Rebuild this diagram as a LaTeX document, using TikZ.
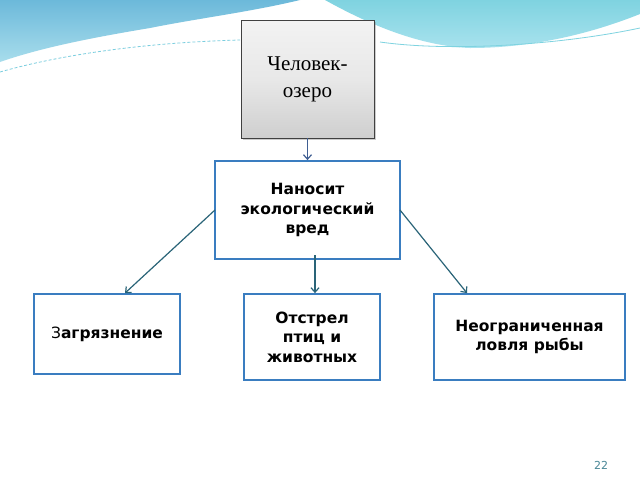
\documentclass[tikz,border=0pt]{standalone}
\usepackage{fontspec}
\setmainfont{Liberation Serif}
\newfontfamily\boxfont{DejaVu Sans}
\usetikzlibrary{arrows.meta,shadows}
\definecolor{boxblue}{HTML}{3A7DC0}
\definecolor{linkteal}{HTML}{2A6478}
\definecolor{topblue}{HTML}{3F5E92}
\definecolor{skyA}{HTML}{6CB9DA}
\definecolor{skyB}{HTML}{A8DDEC}
\definecolor{tealA}{HTML}{7FD3E0}
\definecolor{tealB}{HTML}{A8E2EE}
\definecolor{pagenum}{HTML}{4A8797}
\tikzset{
  bluebox/.style={draw=boxblue, line width=1.8pt, fill=white, inner sep=0pt,
    font=\boxfont\bfseries\fontsize{15.5}{19.5}\selectfont, align=center},
  greybox/.style={draw=black!75, line width=0.8pt, top color=gray!10, bottom color=gray!38,
    middle color=gray!18, inner sep=0pt, drop shadow={shadow xshift=1.5pt, shadow yshift=-1.5pt, opacity=0.4},
    font=\fontsize{21}{27}\selectfont, align=center},
  link/.style={draw=linkteal, line width=1.2pt, -{Straight Barb[length=4.5pt,width=8pt]}},
}
\begin{document}
\begin{tikzpicture}[x=1pt,y=-1pt]
\useasboundingbox (0,0) rectangle (640,480);
\fill[white] (0,0) rectangle (640,480);
% background swooshes
\shade[top color=skyA, bottom color=skyB] (0,0) -- (300,0) .. controls (250,12) and (200,18) .. (150,28)
  .. controls (90,38) and (40,48) .. (0,62) -- cycle;
\shade[top color=tealA, bottom color=tealB] (325,0) -- (640,0) -- (640,14)
  .. controls (600,30) and (540,48) .. (470,48) .. controls (420,46) and (370,25) .. (325,0) -- cycle;
\draw[tealA!80!skyA, line width=0.8pt, dash pattern=on 3pt off 2pt] (0,72) .. controls (70,52) and (160,42) .. (240,40);
\draw[tealA, line width=0.8pt] (380,42) .. controls (450,52) and (560,45) .. (640,28);
% nodes
\node[greybox, minimum width=133pt, minimum height=118pt] (man) at (307.5,79) {Человек-\\озеро};
\node[bluebox, minimum width=185pt, minimum height=98pt] (harm) at (307.5,210) {Наносит\\экологический\\вред};
\node[bluebox, minimum width=146pt, minimum height=80pt] (poll) at (107,334) {\mdseries З\bfseries агрязнение};
\node[bluebox, minimum width=136pt, minimum height=86pt] (shoot) at (312,337) {Отстрел\\птиц и\\животных};
\node[bluebox, minimum width=191pt, minimum height=86pt] (fish) at (529.5,337) {Неограниченная\\ловля рыбы};
\coordinate (harmL) at (215,210);
\coordinate (harmR) at (400,210);
\coordinate (harmB) at (315,255);
% connectors
\draw[link, draw=topblue] (man.south) -- (harm.north);
\draw[link] (harmL) -- (poll.north -| 125,0);
\draw[link] (harmB) -- (shoot.north -| 315,0);
\draw[link] (harmR) -- (fish.north -| 467,0);
\node[font=\boxfont\fontsize{11}{13}\selectfont, text=pagenum] (pg) at (601,465) {22};
\end{tikzpicture}
\end{document}
